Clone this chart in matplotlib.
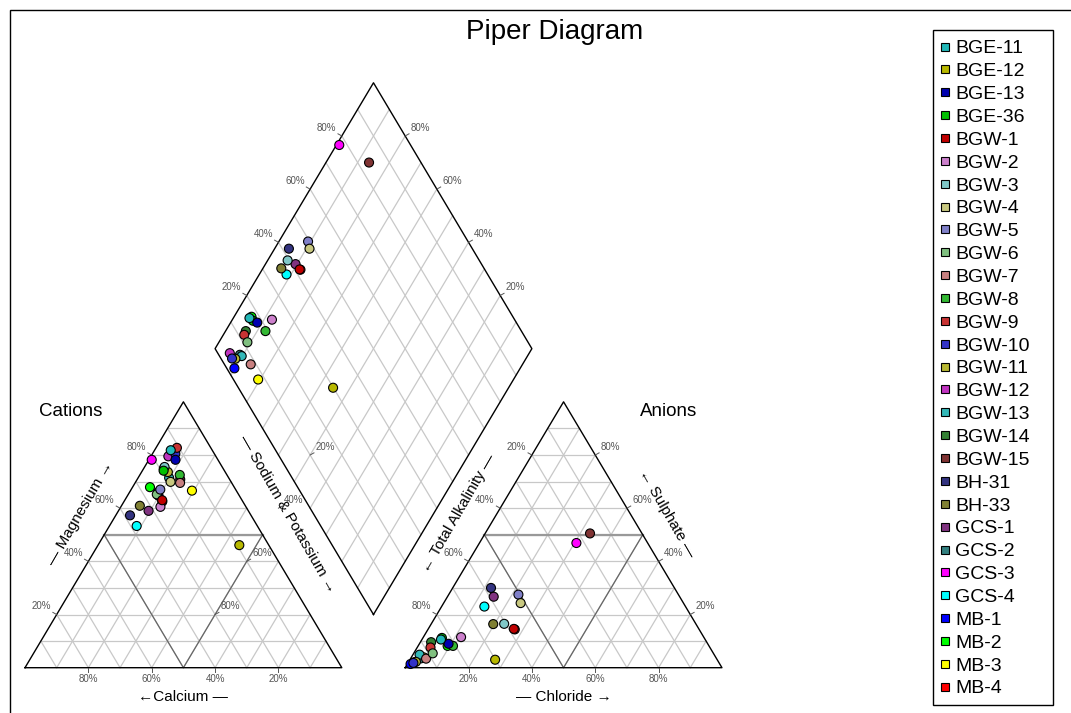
import numpy as np
import matplotlib.pyplot as plt
from matplotlib.lines import Line2D

plt.rcParams['font.family'] = ['Liberation Sans', 'DejaVu Sans']

# ---- sample data (meq %) ----
samples = ["BGE-11", "BGE-12", "BGE-13", "BGE-36", "BGW-1", "BGW-2", "BGW-3",
           "BGW-4", "BGW-5", "BGW-6", "BGW-7", "BGW-8", "BGW-9", "BGW-10",
           "BGW-11", "BGW-12", "BGW-13", "BGW-14", "BGW-15", "BH-31", "BH-33",
           "GCS-1", "GCS-2", "GCS-3", "GCS-4", "MB-1", "MB-2", "MB-3", "MB-4"]
colors = ["#22b8b8", "#b8b800", "#0000b0", "#00c000", "#c00000", "#cc80cc", "#80c8c8",
          "#c8c880", "#8080c8", "#80c080", "#c88080", "#33b833", "#c83333", "#3333c8",
          "#b8b833", "#c033c0", "#33b8b8", "#338033", "#803333", "#333380", "#808033",
          "#803380", "#338080", "#ff00ff", "#00ffff", "#0000ff", "#00ff00", "#ffff00", "#ff0000"]

# cations
ca = [13.1, 9.3, 13.4, 19.2, 25.2, 27.0, 18.2, 19.1, 23.8, 25.8, 16.3, 14.9, 10.7, 12.3,
      18.1, 15.0, 18.8, 18.8, 15.6, 38.2, 33.3, 31.5, 25.0, 20.9, 38.1, 25.5, 26.6, 14.0, 25.4]
mg = [81.8, 46.1, 78.2, 74.1, 63.0, 60.5, 75.5, 69.9, 67.0, 65.2, 69.5, 72.5, 82.7, 80.5,
      73.6, 79.5, 71.4, 74.8, 70.8, 57.3, 60.9, 59.0, 66.0, 78.2, 53.3, 64.7, 67.9, 66.6, 62.5]
na_k = [5.1, 44.6, 8.4, 6.7, 11.8, 12.5, 6.3, 11.0, 9.2, 9.0, 14.2, 12.6, 6.6, 7.2,
        8.3, 5.5, 9.8, 6.4, 13.6, 4.5, 5.8, 9.5, 9.0, 0.9, 8.6, 9.8, 5.5, 19.4, 12.1]

# anions
hco3 = [83.4, 70.1, 81.8, 82.8, 58.4, 76.6, 60.5, 51.4, 50.5, 88.6, 91.7, 80.8, 88.2, 96.5,
        95.5, 96.2, 93.0, 87.0, 16.4, 57.9, 64.0, 58.7, 93.3, 22.5, 63.5, 97.6, 82.5, 92.2, 58.2]
so4 = [10.6, 3.0, 9.0, 11.2, 14.6, 11.5, 16.5, 24.3, 27.5, 5.4, 3.4, 8.2, 7.6, 1.8,
       2.2, 2.0, 4.9, 9.6, 50.5, 30.0, 16.4, 26.7, 3.5, 46.9, 23.0, 1.4, 8.2, 3.9, 14.4]
cl = [6.0, 26.9, 9.2, 6.0, 27.0, 11.9, 23.0, 24.3, 22.0, 6.0, 4.9, 11.0, 4.2, 1.7,
      2.3, 1.8, 2.1, 3.4, 33.1, 12.1, 19.6, 14.6, 3.2, 30.6, 13.5, 1.0, 9.3, 3.9, 27.4]

# ---- geometry ----
H = np.sqrt(3) / 2
GAP = 0.2
X_AN = 1 + GAP                      # left corner of anion triangle
BOT = np.array([1 + GAP / 2, GAP * H])   # bottom corner of diamond
U = np.array([-0.5, H])
V = np.array([0.5, H])

GRID_C = "#c8c8c8"
MID_C = "#666666"
TICK_C = "#555555"


def tern_xy(right, top, x0=0.0):
    """right = component at lower-right corner, top = component at apex (percent)."""
    right = np.asarray(right) / 100.0
    top = np.asarray(top) / 100.0
    return x0 + right + top / 2, top * H


def diamond_xy(a, b):
    a = np.asarray(a) / 100.0
    b = np.asarray(b) / 100.0
    return BOT[0] + a * U[0] + b * V[0], BOT[1] + a * U[1] + b * V[1]


def draw_triangle(ax, x0):
    for i in range(1, 10):
        t = i / 10
        ax.plot([x0 + t / 2, x0 + 1 - t / 2], [t * H, t * H], color=GRID_C, lw=0.9, zorder=1)
        ax.plot([x0 + t, x0 + t + (1 - t) / 2], [0, (1 - t) * H], color=GRID_C, lw=0.9, zorder=1)
        ax.plot([x0 + 1 - t, x0 + (1 - t) / 2], [0, (1 - t) * H], color=GRID_C, lw=0.9, zorder=1)
    # facies subdivision
    ax.plot([x0 + 0.25, x0 + 0.75], [0.5 * H, 0.5 * H], color="#999999", lw=1.6, zorder=1.5)
    ax.plot([x0 + 0.25, x0 + 0.5, x0 + 0.75], [0.5 * H, 0, 0.5 * H], color=MID_C, lw=0.9, zorder=1.5)
    ax.plot([x0, x0 + 1, x0 + 0.5, x0], [0, 0, H, 0], color="black", lw=1.0, zorder=2)


def draw_diamond(ax):
    for i in range(1, 10):
        t = i / 10
        p0 = BOT + t * U
        p1 = p0 + V
        ax.plot([p0[0], p1[0]], [p0[1], p1[1]], color=GRID_C, lw=0.9, zorder=1)
        p0 = BOT + t * V
        p1 = p0 + U
        ax.plot([p0[0], p1[0]], [p0[1], p1[1]], color=GRID_C, lw=0.9, zorder=1)
    c = np.array([BOT, BOT + U, BOT + U + V, BOT + V, BOT])
    ax.plot(c[:, 0], c[:, 1], color="black", lw=1.0, zorder=2)


def tick_label(ax, p, normal, text, ha, va):
    n = np.asarray(normal)
    q = p + 0.014 * n
    ax.plot([p[0], q[0]], [p[1], q[1]], color=TICK_C, lw=0.7, zorder=2)
    r = p + 0.02 * n
    ax.text(r[0], r[1], text, ha=ha, va=va, fontsize=7, color=TICK_C)


fig = plt.figure(figsize=(10.71, 7.13), dpi=100)
ax = fig.add_axes([0, 0, 1, 1])
# data units: 316.8 px per unit across, 307 px per unit up; origin at (25, 667.7) px
ax.set_xlim(-25 / 316.8, 1046 / 316.8)
ax.set_ylim(-45.3 / 307, 667.7 / 307)
ax.axis("off")

draw_triangle(ax, 0.0)
draw_triangle(ax, X_AN)
draw_diamond(ax)

nl = np.array([-0.866, 0.5])
nr = np.array([0.866, 0.5])
nd = np.array([0.0, -1.0])
for v in [20, 40, 60, 80]:
    t = v / 100
    lab = f"{v}%"
    # cations: Mg on left edge, Na+K on right edge, Ca along base
    tick_label(ax, np.array([t / 2, t * H]), nl, lab, "right", "bottom")
    tick_label(ax, np.array([1 - t / 2, (1 - t) * H]), nr, lab, "left", "bottom")
    tick_label(ax, np.array([1 - t, 0]), nd, lab, "center", "top")
    # anions: HCO3 on left edge, SO4 on right edge, Cl along base
    tick_label(ax, np.array([X_AN + (1 - t) / 2, (1 - t) * H]), nl, lab, "right", "bottom")
    tick_label(ax, np.array([X_AN + 1 - t / 2, t * H]), nr, lab, "left", "bottom")
    tick_label(ax, np.array([X_AN + t, 0]), nd, lab, "center", "top")
    # diamond: SO4+Cl on upper-left edge, Ca+Mg on upper-right edge
    tick_label(ax, BOT + U + t * V, nl, lab, "right", "bottom")
    tick_label(ax, BOT + V + t * U, nr, lab, "left", "bottom")

# axis names
lab_kw = dict(fontsize=11, ha="center", va="center", rotation_mode="anchor")
ax.text(0.5, -0.095, "\u2190Calcium \u2014", **lab_kw)
ax.text(X_AN + 0.5, -0.095, "\u2014 Chloride \u2192", **lab_kw)
ax.text(0.174, 0.504, "\u2014 Magnesium \u2192", rotation=60, **lab_kw)
ax.text(0.829, 0.501, "\u2014 Sodium & Potassium \u2192", rotation=-60, **lab_kw)
ax.text(1.367, 0.504, "\u2190 Total Alkalinity \u2014", rotation=60, **lab_kw)
ax.text(2.025, 0.501, "\u2190 Sulphate \u2014", rotation=-60, **lab_kw)
ax.text(0.144, 0.833, "Cations", fontsize=13.5, ha="center", va="center")
ax.text(2.033, 0.833, "Anions", fontsize=13.5, ha="center", va="center")

# ---- points (first sample drawn last, so it sits on top) ----
pt_kw = dict(s=42, edgecolors="black", linewidths=0.8, zorder=5)
cx, cy = tern_xy(na_k, mg)
axx, ayy = tern_xy(cl, so4, X_AN)
dx, dy = diamond_xy(np.array(ca) + np.array(mg), np.array(so4) + np.array(cl))
rev_colors = colors[::-1]
ax.scatter(cx[::-1], cy[::-1], c=rev_colors, **pt_kw)
ax.scatter(axx[::-1], ayy[::-1], c=rev_colors, **pt_kw)
ax.scatter(dx[::-1], dy[::-1], c=rev_colors, **pt_kw)

fig.text(555 / 1071, 1 - 32 / 713, "Piper Diagram", fontsize=20, ha="center", va="center")

handles = [Line2D([], [], marker="s", ls="none", markersize=6, markerfacecolor=c,
                  markeredgecolor="black", markeredgewidth=0.8) for c in colors]
fig.legend(handles, samples, loc="upper left", bbox_to_anchor=(933 / 1071, 1 - 32 / 713),
           fontsize=14, frameon=False, labelspacing=0.27, handlelength=0.4,
           handletextpad=0.33, borderpad=0.4, borderaxespad=0)
# legend box
fig.add_artist(plt.Rectangle((933 / 1071, 1 - 705 / 713), 120 / 1071, 675 / 713,
                             transform=fig.transFigure, fill=False, edgecolor="black", lw=1.0))

# outer frame
fig.add_artist(plt.Rectangle((10 / 1071, -0.01), 1.02, 1 - 10 / 713 + 0.01,
                             transform=fig.transFigure, fill=False, edgecolor="black", lw=1.0))

fig.savefig("out.png", dpi=100)
